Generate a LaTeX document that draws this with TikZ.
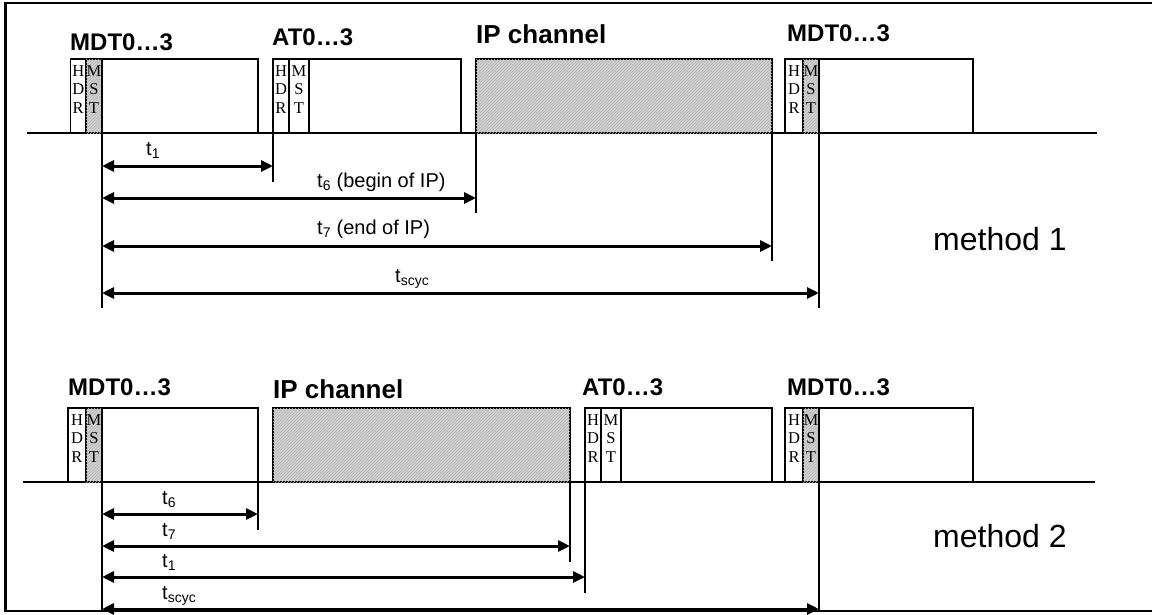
\documentclass[tikz,border=0pt]{standalone}
\usepackage{fontspec}
\setmainfont{Liberation Sans}
\newfontfamily\tmsfont{Liberation Serif}
\usetikzlibrary{arrows.meta, patterns}

% one telegram: name, hdr x, mst x, body x, end x, base y, mst look
\newcommand{\tgram}[7]{%
  \node[part, minimum width=#3pt-#2pt] (#1h) at (#2,#6) {};
  \node[part, #7, minimum width=#4pt-#3pt] (#1m) at (#3,#6) {};
  \node[part, minimum width=#5pt-#4pt] (#1b) at (#4,#6) {};
  \node[stack] (#1ht) at (#1h.north) {H\\D\\R};
  \node[stack] (#1mt) at (#1m.north) {M\\S\\T};
}

\begin{document}
\begin{tikzpicture}[x=1pt, y=-1pt, >={Triangle[length=12pt,width=11pt]},
  part/.style={draw, line width=1.8pt, fill=white, minimum height=74pt,
    inner sep=0pt, outer sep=0pt, anchor=south west},
  hatch/.style={fill=gray!35, postaction={pattern=north east lines, pattern color=gray!60}},
  stack/.style={anchor=north, align=center, inner sep=0pt, yshift=-6pt,
    font=\tmsfont\fontsize{16.5}{18.5}\selectfont},
  head/.style={anchor=base west, inner sep=0pt, font=\bfseries\fontsize{24}{28}\selectfont},
  tlab/.style={anchor=base west, inner sep=0pt, font=\fontsize{20}{24}\selectfont},
  meth/.style={anchor=base west, inner sep=0pt, font=\fontsize{32}{36}\selectfont},
  dim/.style={<->, line width=3pt},
  tickline/.style={line width=1.4pt},
  busline/.style={line width=1.1pt}]
  \useasboundingbox (0,0) rectangle (1152,614);

  % outer frame (open to the right)
  \draw[line width=2.5pt] (1152,3) -- (5.5,3) -- (5.5,611) -- (1152,611);

  % ---------------- method 1 ----------------
  \draw[busline] (27,133) coordinate (bA0) -- (1097,133) coordinate (bA1);
  \tgram{mdtA}{70.5}{86}{102}{258}{133}{hatch}
  \tgram{atA}{273}{289}{309}{461}{133}{}
  \node[part, hatch, minimum width=296pt] (ipA) at (476,133) {};
  \tgram{mdtB}{785}{803}{819}{973}{133}{hatch}

  \node[head] (hA1) at (70,50) {MDT0…3};
  \node[head] (hA2) at (272,45) {AT0…3};
  \node[head, font=\bfseries\fontsize{26}{30}\selectfont] (hA3) at (476,43) {IP channel};
  \node[head] (hA4) at (787,41) {MDT0…3};

  % ticks
  \draw[tickline] (mdtAm.south east) -- ++(0,175) coordinate (kA0);
  \draw[tickline] (atAh.south west) -- ++(0,49) coordinate (kA1);
  \draw[tickline] (ipA.south west) -- ++(0,80) coordinate (kA2);
  \draw[tickline] (ipA.south east) -- ++(0,128) coordinate (kA3);
  \draw[tickline] (mdtBm.south east) -- ++(0,175) coordinate (kA4);

  % time spans
  \coordinate (rA1) at (0,166);
  \coordinate (rA2) at (0,198);
  \coordinate (rA3) at (0,246);
  \coordinate (rA4) at (0,293);
  \draw[dim] (kA0 |- rA1) -- (kA1 |- rA1);
  \draw[dim] (kA0 |- rA2) -- (kA2 |- rA2);
  \draw[dim] (kA0 |- rA3) -- (kA3 |- rA3);
  \draw[dim] (kA0 |- rA4) -- (kA4 |- rA4);
  \node[tlab] (lA1) at (146,155) {t\textsubscript{1}};
  \node[tlab] (lA2) at (317,187) {t\textsubscript{6} (begin of IP)};
  \node[tlab] (lA3) at (317,234) {t\textsubscript{7} (end of IP)};
  \node[tlab] (lA4) at (395,282) {t\textsubscript{scyc}};

  \node[meth] (m1) at (933,250) {method 1};

  % ---------------- method 2 ----------------
  \draw[busline] (23,482) coordinate (bB0) -- (1095,482) coordinate (bB1);
  \tgram{mdtC}{68}{86}{102}{258}{482}{hatch}
  \node[part, hatch, minimum width=297pt] (ipB) at (273,482) {};
  \tgram{atB}{585}{601}{621}{772}{482}{}
  \tgram{mdtD}{785}{803}{819}{973}{482}{hatch}

  \node[head] (hB1) at (68,395) {MDT0…3};
  \node[head, font=\bfseries\fontsize{26}{30}\selectfont] (hB2) at (273,398) {IP channel};
  \node[head] (hB3) at (582,395) {AT0…3};
  \node[head] (hB4) at (787,395) {MDT0…3};

  % ticks
  \draw[tickline] (mdtCm.south east) -- ++(0,129) coordinate (kB0);
  \draw[tickline] (mdtCb.south east) -- ++(0,48) coordinate (kB1);
  \draw[tickline] (ipB.south east) -- ++(0,80) coordinate (kB2);
  \draw[tickline] (atBh.south west) -- ++(0,111) coordinate (kB3);
  \draw[tickline] (mdtDm.south east) -- ++(0,129) coordinate (kB4);

  % time spans
  \coordinate (rB1) at (0,514);
  \coordinate (rB2) at (0,546);
  \coordinate (rB3) at (0,577);
  \coordinate (rB4) at (0,609);
  \draw[dim] (kB0 |- rB1) -- (kB1 |- rB1);
  \draw[dim] (kB0 |- rB2) -- (kB2 |- rB2);
  \draw[dim] (kB0 |- rB3) -- (kB3 |- rB3);
  \draw[dim] (kB0 |- rB4) -- (kB4 |- rB4);
  \node[tlab] (lB1) at (162,504) {t\textsubscript{6}};
  \node[tlab] (lB2) at (162,536) {t\textsubscript{7}};
  \node[tlab] (lB3) at (162,567) {t\textsubscript{1}};
  \node[tlab] (lB4) at (162,599) {t\textsubscript{scyc}};

  \node[meth] (m2) at (933,547) {method 2};
\end{tikzpicture}
\end{document}
